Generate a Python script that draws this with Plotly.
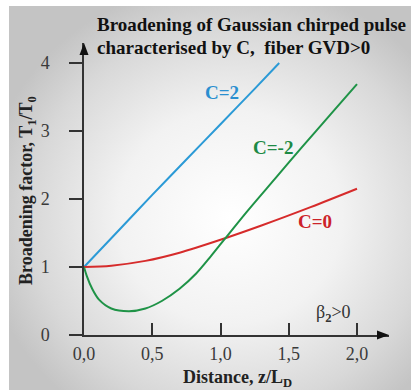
import base64
import plotly.graph_objects as go

# ---------------- data ----------------
blue_x = [0.0, 0.25, 0.5, 0.75, 1.0, 1.25, 1.43]
blue_y = [1.0, 1.53, 2.06, 2.58, 3.10, 3.62, 4.0]

red_x = [0.0, 0.2, 0.45, 0.7, 1.0, 1.3, 1.66, 2.0]
red_y = [1.0, 1.02, 1.09, 1.21, 1.40, 1.61, 1.88, 2.15]

green_x = [0.0, 0.02, 0.06, 0.11, 0.2, 0.33, 0.45, 0.57, 0.7, 0.82, 0.93, 1.03, 1.2, 1.4, 1.6, 1.8, 2.0]
green_y = [1.0, 0.87, 0.68, 0.52, 0.39, 0.35, 0.39, 0.50, 0.68, 0.90, 1.16, 1.41, 1.83, 2.30, 2.77, 3.23, 3.69]

x_tick_vals = [0.0, 0.5, 1.0, 1.5, 2.0]
x_tick_text = ["0,0", "0,5", "1,0", "1,5", "2,0"]
y_tick_vals = [0, 1, 2, 3, 4]
y_tick_text = ["0", "1", "2", "3", "4"]

title_lines = ["Broadening of Gaussian chirped pulse", "characterised by C,  fiber GVD>0"]
x_title = "Distance, z/L<sub>D</sub>"
y_title = "Broadening factor, T<sub>1</sub>/T<sub>0</sub>"

# ---------------- style ----------------
W, H = 411, 390
ML, MR, MT, MB = 84, 22, 43, 55
PX_X = 136.5  # pixels per x unit
PX_Y = 68.0   # pixels per y unit
x_range = [0, (W - ML - MR) / PX_X]
y_range = [0, (H - MT - MB) / PX_Y]

BLUE = "#2b9ad6"
GREEN = "#1f9347"
RED = "#d62b2b"
AXIS = "#333333"
SERIF = "Liberation Serif"

pw = W - ML - MR
ph = H - MT - MB


def px2paper_x(px):
    return (px - ML) / pw


def px2paper_y(py):
    return (H - MB - py) / ph


svg = (
    "<svg xmlns='http://www.w3.org/2000/svg' width='402' height='384' viewBox='0 0 402 384' preserveAspectRatio='none'>"
    "<defs><radialGradient id='g' cx='0.55' cy='0.55' r='0.62'>"
    "<stop offset='0' stop-color='#ffffff'/>"
    "<stop offset='0.45' stop-color='#f2f2f2'/>"
    "<stop offset='0.8' stop-color='#d8d8d8'/>"
    "<stop offset='1' stop-color='#c4c4c4'/>"
    "</radialGradient></defs>"
    "<rect width='402' height='384' fill='url(#g)'/></svg>"
)
svg_uri = "data:image/svg+xml;base64," + base64.b64encode(svg.encode()).decode()

fig = go.Figure()

for xs, ys, col in [(blue_x, blue_y, BLUE), (red_x, red_y, RED), (green_x, green_y, GREEN)]:
    fig.add_trace(go.Scatter(x=xs, y=ys, mode="lines",
                             line=dict(color=col, width=2, shape="spline", smoothing=0.9),
                             hoverinfo="skip", cliponaxis=False))

fig.update_layout(
    width=W, height=H,
    margin=dict(l=ML, r=MR, t=MT, b=MB, pad=0),
    paper_bgcolor="white",
    plot_bgcolor="rgba(0,0,0,0)",
    showlegend=False,
    images=[dict(source=svg_uri, xref="paper", yref="paper",
                 x=px2paper_x(9), y=px2paper_y(6),
                 sizex=px2paper_x(411) - px2paper_x(9), sizey=px2paper_y(6) - px2paper_y(390),
                 xanchor="left", yanchor="top", sizing="stretch", layer="below")],
    xaxis=dict(range=x_range, showgrid=False, zeroline=False, showline=True, linecolor=AXIS, linewidth=1.5,
               ticks="inside", ticklen=12, tickwidth=1.5, tickcolor=AXIS,
               tickvals=x_tick_vals, ticktext=x_tick_text, ticklabelstandoff=2,
               tickfont=dict(family=SERIF, size=18, color="#3a3a3a")),
    yaxis=dict(range=y_range, showgrid=False, zeroline=False, showline=True, linecolor=AXIS, linewidth=1.5,
               ticks="outside", ticklen=13, tickwidth=1.5, tickcolor=AXIS,
               tickvals=y_tick_vals, ticktext=y_tick_text, ticklabelstandoff=16,
               tickfont=dict(family=SERIF, size=18, color="#3a3a3a")),
)

# arrowheads at the axis ends (paper coordinates computed from pixel sizes)
ax_len, ax_half = 12, 4.5
fig.add_shape(type="path", xref="paper", yref="paper", layer="above",
              path=(f"M 0 1 L {-ax_half / pw} {1 - ax_len / ph} L {ax_half / pw} {1 - ax_len / ph} Z"),
              fillcolor="#111111", line=dict(width=0))
fig.add_shape(type="path", xref="paper", yref="paper", layer="above",
              path=(f"M 1 0 L {1 - ax_len / pw} {ax_half / ph} L {1 - ax_len / pw} {-ax_half / ph} Z"),
              fillcolor="#111111", line=dict(width=0))

annots = [
    dict(text="<b>" + title_lines[0] + "</b>", x=px2paper_x(95), y=px2paper_y(25), xanchor="left",
         font=dict(family=SERIF, size=19, color="#111111")),
    dict(text="<b>" + title_lines[1] + "</b>", x=px2paper_x(95), y=px2paper_y(47), xanchor="left",
         font=dict(family=SERIF, size=19, color="#111111")),
    dict(text="<b>" + x_title + "</b>", x=px2paper_x(237), y=px2paper_y(378), xanchor="center",
         font=dict(family=SERIF, size=18, color="#222222")),
    dict(text="<b>" + y_title + "</b>", x=px2paper_x(27), y=px2paper_y(191), xanchor="center", textangle=-90,
         font=dict(family=SERIF, size=18, color="#222222")),
    dict(text="<b>C=2</b>", x=px2paper_x(222), y=px2paper_y(92), xanchor="center",
         font=dict(family=SERIF, size=19, color="#2a8fd0")),
    dict(text="<b>C=-2</b>", x=px2paper_x(273), y=px2paper_y(147), xanchor="center",
         font=dict(family=SERIF, size=19, color="#1d8a45")),
    dict(text="<b>C=0</b>", x=px2paper_x(315), y=px2paper_y(221), xanchor="center",
         font=dict(family=SERIF, size=19, color="#cc2229")),
    dict(text="β<sub><b>2</b></sub>>0", x=px2paper_x(333), y=px2paper_y(313), xanchor="center",
         font=dict(family=SERIF, size=18, color="#333333")),
]
for a in annots:
    a.update(xref="paper", yref="paper", showarrow=False, yanchor="middle")
    fig.add_annotation(**a)

fig.write_html("out.html")
